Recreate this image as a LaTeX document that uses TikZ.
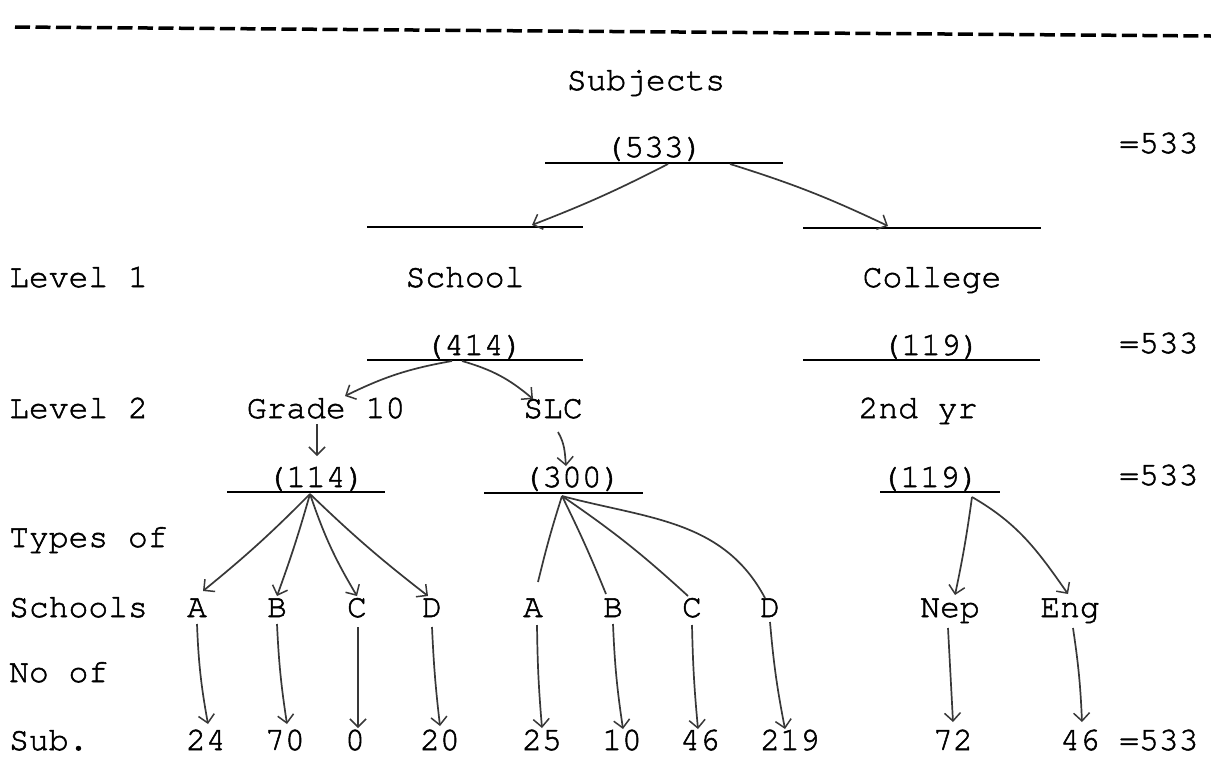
\documentclass[tikz,border=0pt]{standalone}
\usepackage{fontspec}
\newfontfamily\tw{texgyrecursor-regular.otf}[FakeBold=1.6]
\usetikzlibrary{arrows.meta}
\begin{document}
\begin{tikzpicture}[x=1pt,y=-1pt,
  lab/.style={font=\tw\fontsize{33}{40}\selectfont, inner sep=0pt, anchor=base},
  labw/.style={lab, anchor=base west},
  rule/.style={line width=2.6pt, black},
  arr/.style={draw=black!78, line width=1.7pt, -{Straight Barb[length=8pt,width=16pt,line width=1.5pt]}},
  ln/.style={draw=black!78, line width=1.7pt},
]
\useasboundingbox (0,0) rectangle (1211,756);
\fill[white] (0,0) rectangle (1211,756);
% top dashed rule
\coordinate (dl) at (15,27);
\coordinate (dr) at (1211,36);
\draw[line width=3.5pt, dash pattern=on 15pt off 5.5pt] (dl) -- (dr);

% texts
\node[lab] (subj) at (646,90) {Subjects};
\node[lab] (n533) at (654,157) {(533)};
\node[labw] (e1) at (1119,153) {=533};
\node[labw] (lv1) at (9,287) {Level 1};
\node[lab] (school) at (465,287) {School};
\node[lab] (college) at (932,287) {College};
\node[lab] (n414) at (474,355) {(414)};
\node[lab] (n119a) at (931,355) {(119)};
\node[labw] (e2) at (1119,353) {=533};
\node[labw] (lv2) at (9,418) {Level 2};
\node[lab] (grade) at (326,418) {Grade 10};
\node[lab] (slc) at (553,418) {SLC};
\node[lab] (yr) at (918,418) {2nd yr};
\node[lab] (n114) at (316,487) {(114)};
\node[lab] (n300) at (572,487) {(300)};
\node[lab] (n119b) at (930,487) {(119)};
\node[labw] (e3) at (1119,485) {=533};
\node[labw] (types) at (9,547) {Types of};
\node[labw] (schools) at (9,617) {Schools};
\node[lab] (a1) at (197,617) {A};
\node[lab] (b1) at (277,617) {B};
\node[lab] (c1) at (357,617) {C};
\node[lab] (d1) at (432,617) {D};
\node[lab] (a2) at (533,617) {A};
\node[lab] (b2) at (613,617) {B};
\node[lab] (c2) at (692,617) {C};
\node[lab] (d2) at (770,617) {D};
\node[lab] (nep) at (950,617) {Nep};
\node[lab] (eng) at (1070,617) {Eng};
\node[labw] (noof) at (9,682) {No of};
\node[labw] (sub) at (9,750) {Sub.};
\node[lab] (v24) at (206,750) {24};
\node[lab] (v70) at (285,750) {70};
\node[lab] (v0) at (355,750) {0};
\node[lab] (v20) at (440,750) {20};
\node[lab] (v25) at (542,750) {25};
\node[lab] (v10) at (622,750) {10};
\node[lab] (v46) at (700,750) {46};
\node[lab] (v219) at (790,750) {219};
\node[lab] (v72) at (953,750) {72};
\node[lab] (v46b) at (1080,750) {46};
\node[labw] (e4) at (1119,750) {=533};

% horizontal rules
\draw[rule] (545,163) -- (783,163);
\draw[rule] (367,227) -- (583,227);
\draw[rule] (803,228) -- (1041,228);
\draw[rule] (367,360) -- (583,360);
\draw[rule] (803,360) -- (1040,360);
\draw[rule] (227,492) -- (385,492);
\draw[rule] (484,493) -- (643,493);
\draw[rule] (880,492) -- (1000,492);

% connector end points
\coordinate (t533l) at (668,164);
\coordinate (t533r) at (730,164);
\coordinate (hschool) at (532,225);
\coordinate (hcollege) at (888,226);
\coordinate (t414l) at (452,361);
\coordinate (t414r) at (462,361);
\coordinate (hgrade) at (345,396);
\coordinate (hslc) at (533,399);
\coordinate (tgrade) at (317,424);
\coordinate (h114) at (317,456);
\coordinate (tslc) at (558,432);
\coordinate (h300) at (566,466);
\coordinate (s114) at (310,494);
\coordinate (s300) at (562,496);
\coordinate (s119) at (972,497);
\coordinate (ha1) at (203,591);
\coordinate (hb1) at (277,596);
\coordinate (hc1) at (357,596);
\coordinate (hd1) at (428,596);
\coordinate (ea2) at (538,582);
\coordinate (eb2) at (606,594);
\coordinate (ec2) at (688,596);
\coordinate (ed2) at (765,598);
\coordinate (hnep) at (955,595);
\coordinate (heng) at (1068,594);
\coordinate (ta1) at (197,624);
\coordinate (tb1) at (277,624);
\coordinate (tc1) at (358,627);
\coordinate (td1) at (432,627);
\coordinate (ta2) at (537,625);
\coordinate (tb2) at (613,624);
\coordinate (tc2) at (692,625);
\coordinate (td2) at (770,622);
\coordinate (tnep) at (948,628);
\coordinate (teng) at (1073,628);
\coordinate (h24) at (208,724);
\coordinate (h70) at (287,724);
\coordinate (h0) at (358,728);
\coordinate (h20) at (440,726);
\coordinate (h25) at (542,728);
\coordinate (h10) at (623,729);
\coordinate (h46) at (698,729);
\coordinate (h219) at (785,729);
\coordinate (h72) at (953,722);
\coordinate (h46b) at (1082,722);

% connectors
\draw[arr] (t533l) to[bend left=3] (hschool);
\draw[arr] (t533r) to[bend left=4] (hcollege);
\draw[arr] (t414l) to[bend right=8] (hgrade);
\draw[arr] (t414r) to[bend left=12] (hslc);
\draw[arr] (tgrade) -- (h114);
\draw[arr] (tslc) to[out=-60,in=95] (h300);
\draw[arr] (s114) to[bend left=3] (ha1);
\draw[arr] (s114) to[bend left=2] (hb1);
\draw[arr] (s114) to[bend right=6] (hc1);
\draw[arr] (s114) to[bend right=3] (hd1);
\draw[ln] (s300) to[bend right=2] (ea2);
\draw[ln] (s300) to[bend left=2] (eb2);
\draw[ln] (s300) to[bend left=4] (ec2);
\draw[ln] (s300) to[out=-15,in=118] (ed2);
\draw[arr] (s119) to[bend left=2] (hnep);
\draw[arr] (s119) to[out=-30,in=125] (heng);
\draw[arr] (ta1) to[bend right=4] (h24);
\draw[arr] (tb1) to[bend right=3] (h70);
\draw[arr] (tc1) -- (h0);
\draw[arr] (td1) to[bend right=2] (h20);
\draw[arr] (ta2) to[bend right=2] (h25);
\draw[arr] (tb2) to[bend right=3] (h10);
\draw[arr] (tc2) to[bend right=2] (h46);
\draw[arr] (td2) to[bend right=3] (h219);
\draw[arr] (tnep) -- (h72);
\draw[arr] (teng) to[bend left=3] (h46b);
\end{tikzpicture}
\end{document}
